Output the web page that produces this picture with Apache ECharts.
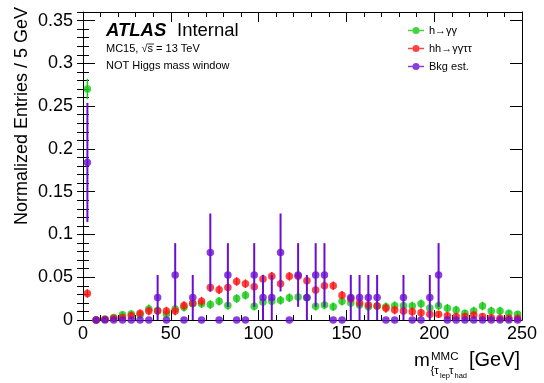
<!DOCTYPE html>
<html>
<head>
<meta charset="utf-8">
<script src="https://cdn.jsdelivr.net/npm/echarts@6/dist/echarts.min.js"></script>
<style>
html,body{margin:0;padding:0;background:#fff;}
#chart{width:544px;height:383px;}
</style>
</head>
<body>
<div id="chart"></div>
<script>
// 5 GeV bins of m_MMC(tau_lep tau_had), centres in GeV
const binCenters = [2.5, 7.5, 12.5, 17.5, 22.5, 27.5, 32.5, 37.5, 42.5, 47.5,
  52.5, 57.5, 62.5, 67.5, 72.5, 77.5, 82.5, 87.5, 92.5, 97.5,
  102.5, 107.5, 112.5, 117.5, 122.5, 127.5, 132.5, 137.5, 142.5, 147.5,
  152.5, 157.5, 162.5, 167.5, 172.5, 177.5, 182.5, 187.5, 192.5, 197.5,
  202.5, 207.5, 212.5, 217.5, 222.5, 227.5, 232.5, 237.5, 242.5, 247.5];

// h -> gamma gamma (normalized)
const hGG = [0.270, 0.000, 0.001, 0.003, 0.006, 0.007, 0.006, 0.013, 0.011, 0.007,
  0.013, 0.015, 0.019, 0.019, 0.018, 0.022, 0.017, 0.025, 0.029, 0.016,
  0.021, 0.022, 0.023, 0.026, 0.027, 0.026, 0.016, 0.0175, 0.0156, 0.022,
  0.020, 0.0175, 0.0156, 0.0163, 0.0156, 0.0167, 0.0167, 0.0163, 0.019, 0.014,
  0.0167, 0.0136, 0.0117, 0.008, 0.0105, 0.0163, 0.0105, 0.0105, 0.008, 0.0066];
const hGGErr = [0.012, 0.001, 0.002, 0.003, 0.004, 0.004, 0.004, 0.005, 0.005, 0.004,
  0.005, 0.005, 0.005, 0.005, 0.005, 0.005, 0.005, 0.005, 0.005, 0.005,
  0.005, 0.005, 0.005, 0.005, 0.005, 0.005, 0.005, 0.005, 0.005, 0.005,
  0.005, 0.005, 0.005, 0.005, 0.005, 0.005, 0.005, 0.005, 0.005, 0.005,
  0.005, 0.005, 0.005, 0.004, 0.005, 0.005, 0.005, 0.005, 0.004, 0.004];

// hh -> gamma gamma tau tau (normalized)
const hhGGTT = [0.031, 0.000, 0.001, 0.002, 0.003, 0.005, 0.008, 0.0105, 0.0105, 0.0105,
  0.0105, 0.017, 0.0195, 0.022, 0.038, 0.0355, 0.038, 0.045, 0.0425, 0.039,
  0.048, 0.051, 0.0425, 0.051, 0.051, 0.046, 0.035, 0.040, 0.040, 0.029,
  0.0245, 0.020, 0.0175, 0.0165, 0.0136, 0.0117, 0.0105, 0.0097, 0.0085, 0.0066,
  0.0066, 0.005, 0.004, 0.004, 0.0058, 0.004, 0.0027, 0.002, 0.002, 0.002];
const hhGGTTErr = [0.005, 0.001, 0.002, 0.002, 0.003, 0.004, 0.004, 0.005, 0.005, 0.005,
  0.005, 0.005, 0.005, 0.005, 0.005, 0.005, 0.005, 0.005, 0.005, 0.005,
  0.005, 0.005, 0.005, 0.005, 0.005, 0.005, 0.005, 0.005, 0.005, 0.005,
  0.005, 0.005, 0.005, 0.005, 0.005, 0.005, 0.005, 0.005, 0.005, 0.004,
  0.004, 0.004, 0.004, 0.004, 0.004, 0.004, 0.003, 0.003, 0.003, 0.003];

// background estimate (normalized) and its statistical error
const bkg = [0.1842, 0, 0, 0, 0, 0, 0, 0, 0.0263, 0,
  0.0526, 0, 0.0263, 0, 0.0789, 0, 0.0526, 0, 0, 0.0526,
  0.0263, 0.0263, 0.0789, 0, 0.0526, 0.0263, 0.0526, 0.0526, 0, 0,
  0.0263, 0.0263, 0.0263, 0.0263, 0, 0, 0.0263, 0, 0, 0.0263,
  0.0526, 0, 0, 0, 0, 0, 0, 0, 0, 0];
const bkgErr = [0.0696, 0, 0, 0, 0, 0, 0, 0, 0.0263, 0,
  0.0372, 0, 0.0263, 0, 0.0456, 0, 0.0372, 0, 0, 0.0372,
  0.0263, 0.0263, 0.0456, 0, 0.0372, 0.0263, 0.0372, 0.0372, 0, 0,
  0.0263, 0.0263, 0.0263, 0.0263, 0, 0, 0.0263, 0, 0, 0.0263,
  0.0372, 0, 0, 0, 0, 0, 0, 0, 0, 0];

const seriesNames = ['h\u2192\u03b3\u03b3', 'hh\u2192\u03b3\u03b3\u03c4\u03c4', 'Bkg est.'];
const seriesColors = ['#14c814', '#ff1414', '#6a0fd2'];

const FONT = 'Liberation Sans, Arial, Helvetica, sans-serif';

function pointData(values, errs) {
  return values.map((v, i) => [binCenters[i], v, errs[i]]);
}

function errorBars(id, values, errs, color, width, z) {
  return {
    type: 'custom',
    id: id,
    silent: true,
    z: z,
    xAxisIndex: 0,
    yAxisIndex: 0,
    data: pointData(values, errs),
    renderItem: function (params, api) {
      const x = api.value(0), y = api.value(1), e = api.value(2);
      if (!e) return null;
      const top = api.coord([x, y + e]);
      const bot = api.coord([x, Math.max(0, y - e)]);
      return {
        type: 'line',
        shape: { x1: top[0], y1: top[1], x2: bot[0], y2: bot[1] },
        style: { stroke: color, lineWidth: width }
      };
    }
  };
}

function markers(name, values, errs, color, z) {
  return {
    type: 'scatter',
    name: name,
    z: z,
    xAxisIndex: 0,
    yAxisIndex: 0,
    symbol: 'circle',
    symbolSize: 7.5,
    itemStyle: { color: color },
    data: pointData(values, errs)
  };
}

// legend glyph: short line with a dot in the middle (pieces do not overlap)
const legendIcon = 'path://M0,2.7H4.6V4.3H0Z M11.4,2.7H16V4.3H11.4Z M4.5,3.5a3.5,3.5 0 1,1 7,0a3.5,3.5 0 1,1 -7,0Z';

const tickLine = { color: '#000', width: 1 };

const option = {
  animation: false,
  backgroundColor: '#fff',
  grid: { left: 83, right: 22, top: 12, bottom: 63, containLabel: false },
  xAxis: [
    {
      type: 'value', position: 'bottom', min: 0, max: 250, interval: 50,
      axisLine: { show: true, onZero: false, lineStyle: { color: '#000', width: 1 } },
      axisTick: { show: true, inside: true, length: 10, lineStyle: tickLine },
      minorTick: { show: true, splitNumber: 5, length: 5, lineStyle: tickLine },
      axisLabel: { color: '#000', fontSize: 18, fontFamily: FONT, margin: 5 },
      splitLine: { show: false }
    },
    {
      type: 'value', position: 'top', min: 0, max: 250, interval: 50,
      axisLine: { show: true, onZero: false, lineStyle: { color: '#000', width: 1 } },
      axisTick: { show: true, inside: true, length: 10, lineStyle: tickLine },
      minorTick: { show: true, splitNumber: 5, length: 5, lineStyle: tickLine },
      axisLabel: { show: false },
      splitLine: { show: false }
    }
  ],
  yAxis: [
    {
      type: 'value', position: 'left', min: 0, max: 0.36, interval: 0.05,
      axisLine: { show: true, onZero: false, lineStyle: { color: '#000', width: 1 } },
      axisTick: { show: true, inside: true, length: 12, lineStyle: tickLine },
      axisLabel: { color: '#000', fontSize: 18, fontFamily: FONT, margin: 10, showMaxLabel: false },
      splitLine: { show: false }
    },
    {
      type: 'value', position: 'left', min: 0, max: 0.36, interval: 0.01,
      axisLine: { show: false },
      axisTick: { show: true, inside: true, length: 6, lineStyle: tickLine },
      axisLabel: { show: false },
      splitLine: { show: false }
    },
    {
      type: 'value', position: 'right', min: 0, max: 0.36, interval: 0.05,
      axisLine: { show: true, onZero: false, lineStyle: { color: '#000', width: 1 } },
      axisTick: { show: true, inside: true, length: 12, lineStyle: tickLine },
      axisLabel: { show: false },
      splitLine: { show: false }
    },
    {
      type: 'value', position: 'right', min: 0, max: 0.36, interval: 0.01,
      axisLine: { show: false },
      axisTick: { show: true, inside: true, length: 6, lineStyle: tickLine },
      axisLabel: { show: false },
      splitLine: { show: false }
    }
  ],
  legend: {
    orient: 'vertical',
    left: 403,
    top: 19,
    itemWidth: 16,
    itemHeight: 7,
    itemGap: 5,
    icon: legendIcon,
    selectedMode: false,
    data: seriesNames,
    textStyle: { color: '#000', fontSize: 11, fontFamily: FONT, lineHeight: 13 }
  },
  series: [
    errorBars('errH', hGG, hGGErr, seriesColors[0], 1.5, 2),
    markers(seriesNames[0], hGG, hGGErr, seriesColors[0], 3),
    errorBars('errHH', hhGGTT, hhGGTTErr, seriesColors[1], 1.5, 4),
    markers(seriesNames[1], hhGGTT, hhGGTTErr, seriesColors[1], 5),
    errorBars('errBkg', bkg, bkgErr, seriesColors[2], 2, 6),
    markers(seriesNames[2], bkg, bkgErr, seriesColors[2], 7)
  ],
  graphic: {
    elements: [
      // y-axis title
      { type: 'text', x: 22, y: 7, rotation: Math.PI / 2,
        style: { text: 'Normalized Entries / 5 GeV', font: '18px ' + FONT, fill: '#000',
                 align: 'right', verticalAlign: 'middle' } },
      // ATLAS label
      { type: 'text', x: 106, y: 31,
        style: { text: 'ATLAS', font: 'italic bold 18.5px ' + FONT, fill: '#000', verticalAlign: 'middle' } },
      { type: 'text', x: 177, y: 31,
        style: { text: 'Internal', font: '18.5px ' + FONT, fill: '#000', verticalAlign: 'middle' } },
      { type: 'text', x: 106, y: 49,
        style: { text: 'MC15, \u221as = 13 TeV', font: '11px ' + FONT, fill: '#000', verticalAlign: 'middle' } },
      { type: 'line', shape: { x1: 147.5, y1: 44, x2: 154, y2: 44 }, style: { stroke: '#000', lineWidth: 0.8 } },
      { type: 'text', x: 106, y: 66,
        style: { text: 'NOT Higgs mass window', font: '11px ' + FONT, fill: '#000', verticalAlign: 'middle' } },
      // x-axis title
      { type: 'text', x: 414, y: 361,
        style: { text: 'm', font: '19px ' + FONT, fill: '#000', verticalAlign: 'middle' } },
      { type: 'text', x: 431, y: 356.5,
        style: { text: 'MMC', font: '11.5px ' + FONT, fill: '#000', verticalAlign: 'middle' } },
      { type: 'text', x: 430.5, y: 370.5,
        style: { text: '{\u03c4', font: '11.5px ' + FONT, fill: '#000', verticalAlign: 'middle' } },
      { type: 'text', x: 440, y: 375.5,
        style: { text: 'lep', font: '7.5px ' + FONT, fill: '#000', verticalAlign: 'middle' } },
      { type: 'text', x: 449, y: 370.5,
        style: { text: '\u03c4', font: '11.5px ' + FONT, fill: '#000', verticalAlign: 'middle' } },
      { type: 'text', x: 454.5, y: 375.5,
        style: { text: 'had', font: '7.5px ' + FONT, fill: '#000', verticalAlign: 'middle' } },
      { type: 'text', x: 469, y: 360,
        style: { text: '[GeV]', font: '20px ' + FONT, fill: '#000', verticalAlign: 'middle' } }
    ]
  }
};

const chart = echarts.init(document.getElementById('chart'), null, { renderer: 'canvas' });
chart.setOption(option);
</script>
</body>
</html>
